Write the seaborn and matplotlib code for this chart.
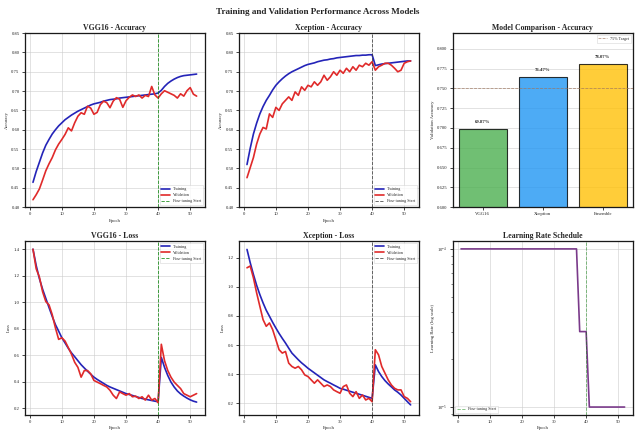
import matplotlib
matplotlib.use("Agg")
import matplotlib.pyplot as plt
import seaborn as sns
import pandas as pd

# ---------------- data ----------------
epochs = list(range(1, 53))

vgg_train_acc = [0.464, 0.492, 0.516, 0.540, 0.560, 0.575, 0.589, 0.600, 0.610, 0.618,
                 0.626, 0.632, 0.638, 0.643, 0.648, 0.652, 0.656, 0.660, 0.664, 0.667,
                 0.669, 0.671, 0.674, 0.676, 0.678, 0.679, 0.680, 0.682, 0.683, 0.684,
                 0.685, 0.686, 0.687, 0.688, 0.689, 0.690, 0.691, 0.692, 0.693, 0.695,
                 0.702, 0.712, 0.720, 0.726, 0.731, 0.735, 0.738, 0.740, 0.741, 0.742,
                 0.743, 0.744]
vgg_val_acc = [0.419, 0.432, 0.447, 0.470, 0.494, 0.512, 0.528, 0.548, 0.563, 0.575,
               0.588, 0.605, 0.597, 0.618, 0.635, 0.644, 0.640, 0.661, 0.656, 0.640,
               0.645, 0.665, 0.674, 0.670, 0.657, 0.674, 0.683, 0.679, 0.658, 0.675,
               0.684, 0.690, 0.686, 0.690, 0.682, 0.689, 0.686, 0.712, 0.690, 0.682,
               0.693, 0.701, 0.697, 0.693, 0.689, 0.682, 0.693, 0.687, 0.701, 0.709,
               0.692, 0.687]
xcp_train_acc = [0.510, 0.552, 0.589, 0.617, 0.641, 0.660, 0.676, 0.689, 0.703, 0.715,
                 0.724, 0.732, 0.739, 0.745, 0.750, 0.754, 0.758, 0.762, 0.766, 0.769,
                 0.771, 0.773, 0.776, 0.778, 0.780, 0.781, 0.783, 0.784, 0.786, 0.787,
                 0.788, 0.789, 0.790, 0.791, 0.792, 0.792, 0.793, 0.793, 0.794, 0.794,
                 0.766, 0.768, 0.770, 0.771, 0.772, 0.773, 0.774, 0.775, 0.776, 0.777,
                 0.778, 0.778]
xcp_val_acc = [0.476, 0.502, 0.528, 0.563, 0.589, 0.606, 0.602, 0.641, 0.632, 0.658,
               0.650, 0.667, 0.676, 0.685, 0.676, 0.698, 0.689, 0.711, 0.702, 0.715,
               0.711, 0.724, 0.715, 0.724, 0.741, 0.728, 0.737, 0.750, 0.741, 0.754,
               0.746, 0.759, 0.750, 0.763, 0.754, 0.767, 0.763, 0.772, 0.767, 0.776,
               0.754, 0.763, 0.767, 0.772, 0.772, 0.767, 0.759, 0.750, 0.754, 0.772,
               0.776, 0.778]
vgg_train_loss = [1.400, 1.277, 1.178, 1.098, 1.029, 0.960, 0.893, 0.831, 0.782, 0.732,
                  0.693, 0.653, 0.618, 0.589, 0.559, 0.529, 0.504, 0.480, 0.457, 0.435,
                  0.418, 0.403, 0.388, 0.373, 0.361, 0.351, 0.341, 0.331, 0.321, 0.311,
                  0.304, 0.297, 0.289, 0.282, 0.274, 0.269, 0.264, 0.259, 0.254, 0.250,
                  0.584, 0.509, 0.448, 0.398, 0.361, 0.331, 0.309, 0.292, 0.277, 0.264,
                  0.254, 0.247]
vgg_val_loss = [1.400, 1.252, 1.190, 1.079, 1.005, 0.980, 0.906, 0.806, 0.720, 0.732,
                0.707, 0.658, 0.608, 0.547, 0.509, 0.435, 0.485, 0.485, 0.460, 0.410,
                0.398, 0.386, 0.373, 0.361, 0.336, 0.299, 0.274, 0.324, 0.311, 0.299,
                0.311, 0.287, 0.292, 0.274, 0.287, 0.262, 0.299, 0.262, 0.274, 0.242,
                0.683, 0.559, 0.485, 0.435, 0.398, 0.373, 0.349, 0.311, 0.299, 0.287,
                0.299, 0.311]
xcp_train_loss = [1.257, 1.166, 1.085, 1.011, 0.947, 0.890, 0.839, 0.798, 0.756, 0.717,
                  0.680, 0.646, 0.614, 0.579, 0.545, 0.522, 0.499, 0.478, 0.460, 0.441,
                  0.425, 0.409, 0.393, 0.377, 0.361, 0.349, 0.338, 0.326, 0.315, 0.303,
                  0.297, 0.290, 0.283, 0.276, 0.269, 0.262, 0.255, 0.248, 0.241, 0.234,
                  0.464, 0.418, 0.384, 0.356, 0.333, 0.313, 0.292, 0.276, 0.257, 0.234,
                  0.211, 0.189]
xcp_val_loss = [1.131, 1.143, 1.062, 0.959, 0.867, 0.775, 0.729, 0.752, 0.706, 0.637,
                0.568, 0.545, 0.556, 0.476, 0.453, 0.441, 0.453, 0.430, 0.395, 0.384,
                0.361, 0.338, 0.361, 0.338, 0.315, 0.326, 0.315, 0.292, 0.280, 0.269,
                0.315, 0.326, 0.269, 0.246, 0.280, 0.234, 0.257, 0.223, 0.234, 0.211,
                0.568, 0.533, 0.453, 0.407, 0.361, 0.326, 0.303, 0.292, 0.292, 0.246,
                0.234, 0.211]
learning_rate = [1e-4] * 37 + [3e-5] * 3 + [1e-5] * 12

models = ["VGG16", "Xception", "Ensemble"]
final_val_acc = [0.6987, 0.7647, 0.7807]
bar_colors = ["#4CAF50", "#2196F3", "#FFC107"]
target_acc = 0.75
fine_tune_epoch = 40

# ---------------- style ----------------
sns.set_theme(style="ticks")
plt.rcParams["font.family"] = ["Liberation Serif", "DejaVu Serif"]
plt.rcParams.update({
    "axes.edgecolor": "0.1",
    "axes.linewidth": 2.3,
    "xtick.labelsize": 8.5,
    "ytick.labelsize": 8.5,
    "xtick.major.width": 1.5,
    "ytick.major.width": 1.5,
    "axes.labelsize": 8.5,
    "legend.fontsize": 7.5,
    "grid.color": "0.8",
    "grid.linewidth": 1.0,
})

fig, axes = plt.subplots(2, 3, figsize=(15.9, 10.75), dpi=40)
fig.subplots_adjust(left=0.039, right=0.995, bottom=0.035, top=0.923,
                    wspace=0.189, hspace=0.195)
fig.suptitle("Training and Validation Performance Across Models",
             fontsize=16.5, fontweight="bold", y=0.982)

TRAIN_C = "#2424b8"
VAL_C = "#e02a2a"
LW = 3.0
TITLE_FS = 14


def curve_panel(ax, train, val, title, ylabel, vcolor, legend_loc, ylim, yticks):
    sns.lineplot(x=epochs, y=train, ax=ax, color=TRAIN_C, linewidth=LW, label="Training")
    sns.lineplot(x=epochs, y=val, ax=ax, color=VAL_C, linewidth=LW, label="Validation")
    ax.axvline(fine_tune_epoch, color=vcolor, linestyle="--", linewidth=1.6,
               alpha=0.8, label="Fine-tuning Start")
    ax.set_title(title, fontsize=TITLE_FS, fontweight="bold", pad=5)
    ax.set_xlabel("Epoch")
    ax.set_ylabel(ylabel)
    ax.set_ylim(*ylim)
    ax.set_yticks(yticks)
    ax.set_xticks([0, 10, 20, 30, 40, 50])
    ax.grid(True)
    ax.legend(loc=legend_loc, frameon=True, fancybox=False, edgecolor="0.8")


acc_ticks = [0.40, 0.45, 0.50, 0.55, 0.60, 0.65, 0.70, 0.75, 0.80, 0.85]
curve_panel(axes[0, 0], vgg_train_acc, vgg_val_acc, "VGG16 - Accuracy", "Accuracy",
            "green", "lower right", (0.40, 0.85), acc_ticks)
curve_panel(axes[0, 1], xcp_train_acc, xcp_val_acc, "Xception - Accuracy", "Accuracy",
            "0.2", "lower right", (0.40, 0.85), acc_ticks)
curve_panel(axes[1, 0], vgg_train_loss, vgg_val_loss, "VGG16 - Loss", "Loss",
            "green", "upper right", (0.15, 1.462), [0.2, 0.4, 0.6, 0.8, 1.0, 1.2, 1.4])
curve_panel(axes[1, 1], xcp_train_loss, xcp_val_loss, "Xception - Loss", "Loss",
            "0.2", "upper right", (0.12, 1.315), [0.2, 0.4, 0.6, 0.8, 1.0, 1.2])

# ---- bar chart ----
axb = axes[0, 2]
bar_df = pd.DataFrame({"Model": models, "Acc": final_val_acc})
sns.barplot(data=bar_df, x="Model", y="Acc", hue="Model", palette=bar_colors,
            saturation=1, edgecolor="black", linewidth=2.0, alpha=0.8, legend=False,
            ax=axb)
axb.axhline(target_acc, color="#a07860", linestyle="--", linewidth=1.4, alpha=0.8,
            label="75% Target")
for i, v in enumerate(final_val_acc):
    axb.text(i, v + 0.006, f"{v * 100:.2f}%", ha="center", va="bottom",
             fontsize=8.5, fontweight="bold")
axb.set_ylim(0.60, 0.82)
axb.set_yticks([0.600, 0.625, 0.650, 0.675, 0.700, 0.725, 0.750, 0.775, 0.800])
axb.set_yticklabels([f"{t:.3f}" for t in axb.get_yticks()])
axb.set_title("Model Comparison - Accuracy", fontsize=TITLE_FS, fontweight="bold", pad=5)
axb.set_xlabel("")
axb.set_ylabel("Validation Accuracy")
axb.grid(True, axis="y")
axb.legend(loc="upper right", frameon=True, fancybox=False, edgecolor="0.8")

# ---- learning rate ----
axl = axes[1, 2]
sns.lineplot(x=epochs, y=learning_rate, ax=axl, color="#7a3a8a", linewidth=LW)
axl.axvline(fine_tune_epoch, color="green", linestyle="--", linewidth=1.6, alpha=0.5,
            label="Fine-tuning Start")
axl.set_yscale("log")
axl.set_title("Learning Rate Schedule", fontsize=TITLE_FS, fontweight="bold", pad=5)
axl.set_xlabel("Epoch")
axl.set_ylabel("Learning Rate (log scale)")
axl.set_xticks([0, 10, 20, 30, 40, 50])
axl.grid(True)
axl.legend(loc="lower left", frameon=True, fancybox=False, edgecolor="0.8")

fig.savefig("out.png", dpi=40)
